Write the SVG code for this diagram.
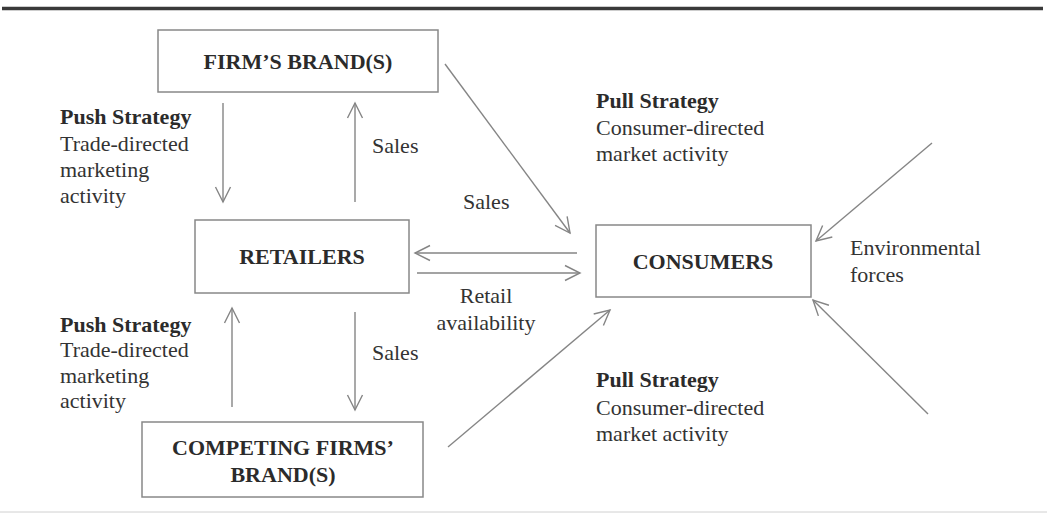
<svg xmlns="http://www.w3.org/2000/svg" width="1047" height="513" viewBox="0 0 1047 513">
<defs>
<style>
text{font-family:"Liberation Serif","Times New Roman",serif;font-size:22px;fill:#333}
.b{font-weight:bold;fill:#2b2b2b}
.box{fill:#fff;stroke:#888;stroke-width:1.5}
.c{text-anchor:middle}
.conn line{stroke:#858585;stroke-width:1.4;fill:none;marker-end:url(#ah)}
</style>
<marker id="ah" markerUnits="userSpaceOnUse" viewBox="-16 -9 18 18" refX="0" refY="0" markerWidth="18" markerHeight="18" orient="auto">
<path d="M-15,-7.5 L0,0 L-15,7.5" fill="none" stroke="#858585" stroke-width="1.4"/>
</marker>
</defs>
<rect width="1047" height="513" fill="#fff"/>
<line x1="2" y1="8.5" x2="1043" y2="8.5" stroke="#3a3a3a" stroke-width="3.5"/>
<line x1="0" y1="512" x2="1047" y2="512" stroke="#d0d0d0" stroke-width="1"/>

<g id="firm">
<rect class="box" x="158" y="30" width="280" height="62"/>
<text class="b c" x="298" y="69">FIRM’S BRAND(S)</text>
</g>
<g id="retailers">
<rect class="box" x="195" y="220" width="214" height="73"/>
<text class="b c" x="302" y="264">RETAILERS</text>
</g>
<g id="consumers">
<rect class="box" x="596" y="225" width="215" height="72"/>
<text class="b c" x="703" y="269">CONSUMERS</text>
</g>
<g id="competing">
<rect class="box" x="142" y="422" width="281" height="75"/>
<text class="b c" x="283" y="455">COMPETING FIRMS’</text>
<text class="b c" x="283" y="482">BRAND(S)</text>
</g>

<g id="connectors" class="conn">
<line x1="223" y1="103" x2="223" y2="202"/>
<line x1="355" y1="202" x2="355" y2="103"/>
<line x1="445" y1="64" x2="570" y2="233"/>
<line x1="577" y1="253" x2="415" y2="253"/>
<line x1="417" y1="273" x2="580" y2="273"/>
<line x1="232" y1="407" x2="232" y2="308"/>
<line x1="355" y1="312" x2="355" y2="410"/>
<line x1="448" y1="447" x2="610" y2="310"/>
<line x1="932" y1="143" x2="816" y2="241"/>
<line x1="928" y1="414" x2="813" y2="300"/>
</g>

<g id="labels">
<text class="b" x="60" y="124">Push Strategy</text>
<text x="60" y="151">Trade-directed</text>
<text x="60" y="177">marketing</text>
<text x="60" y="203">activity</text>
<text x="372" y="153">Sales</text>
<text x="463" y="209">Sales</text>
<text class="b" x="596" y="108">Pull Strategy</text>
<text x="596" y="135">Consumer-directed</text>
<text x="596" y="161">market activity</text>
<text x="850" y="255">Environmental</text>
<text x="850" y="282">forces</text>
<text class="c" x="486" y="303">Retail</text>
<text class="c" x="486" y="330">availability</text>
<text class="b" x="60" y="332">Push Strategy</text>
<text x="60" y="357">Trade-directed</text>
<text x="60" y="383">marketing</text>
<text x="60" y="408">activity</text>
<text x="372" y="360">Sales</text>
<text class="b" x="596" y="387">Pull Strategy</text>
<text x="596" y="415">Consumer-directed</text>
<text x="596" y="441">market activity</text>
</g>
</svg>
